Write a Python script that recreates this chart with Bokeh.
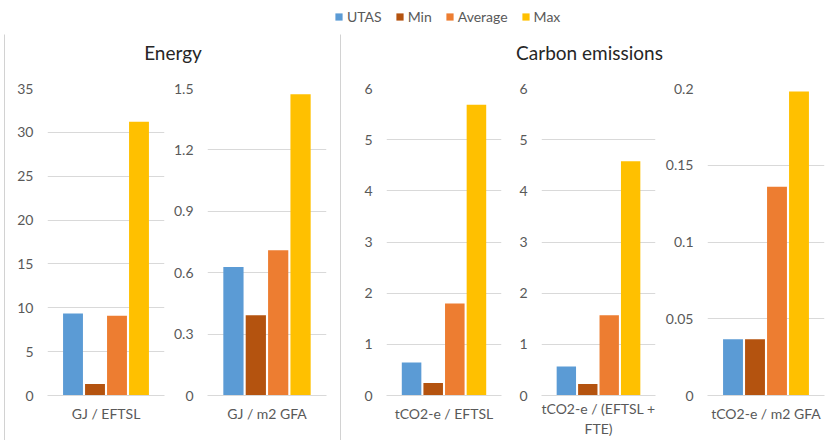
from bokeh.plotting import figure
from bokeh.layouts import row, column
from bokeh.models import (Range1d, FactorRange, FixedTicker, NumeralTickFormatter,
                          ColumnDataSource, Legend, LegendItem, CategoricalAxis)
from bokeh.transform import dodge
from bokeh.core.properties import value
from bokeh.embed import file_html
from bokeh.resources import INLINE

# ---------------- data ----------------
categories = ["GJ / EFTSL", "GJ / m2 GFA", "tCO2-e / EFTSL",
              "tCO2-e / (EFTSL + FTE)", "tCO2-e / m2 GFA"]
# category labels as drawn (wrapped where the chart wraps them)
label_lines = [["GJ / EFTSL"], ["GJ / m2 GFA"], ["tCO2-e / EFTSL"],
               ["tCO2-e / (EFTSL +", "FTE)"], ["tCO2-e / m2 GFA"]]
series = ["UTAS", "Min", "Average", "Max"]
utas = [9.35, 0.628, 0.645, 0.566, 0.0367]
minimum = [1.3, 0.392, 0.246, 0.227, 0.0367]
average = [9.09, 0.71, 1.80, 1.57, 0.136]
maximum = [31.2, 1.472, 5.68, 4.58, 0.198]
y_ticks = [
    [0, 5, 10, 15, 20, 25, 30, 35],
    [0, 0.3, 0.6, 0.9, 1.2, 1.5],
    [0, 1, 2, 3, 4, 5, 6],
    [0, 1, 2, 3, 4, 5, 6],
    [0, 0.05, 0.1, 0.15, 0.2],
]
panel_titles = ["Energy", "Carbon emissions"]

# ---------------- style ----------------
colors = ["#5B9BD5", "#B4530F", "#ED7D31", "#FFC000"]
FONT = "Lato"
TXT = "#595959"
GRID = "#d9d9d9"
BORDER = "#a6a6a6"
SLOT = 0.188
BAR_W = 0.17
# (canvas width, left border, right border) per subplot
sub_layout = [(165, 42, 6), (170, 37, 14), (169, 45, 9), (152, 31, 7), (175, 42, 13)]
LEG_H = 33
SUB_H = 370
TITLE_H = 36
PANEL_H = TITLE_H + SUB_H
TOTAL_W = 837
PANEL_W = [335, 496]


def base(w, h, **kw):
    return figure(width=w, height=h, toolbar_location=None, output_backend="svg", **kw)


def strip(w, h, color=BORDER):
    p = base(w, h, min_border=0, x_axis_location=None, y_axis_location=None,
             x_range=Range1d(0, 1), y_range=Range1d(0, 1))
    p.background_fill_color = color
    p.border_fill_color = color
    p.outline_line_color = None
    p.grid.visible = False
    return p


def title_fig(w, text):
    p = base(w, TITLE_H, min_border=0, x_axis_location=None, y_axis_location=None,
             x_range=Range1d(0, 1), y_range=Range1d(0, 1))
    p.outline_line_color = None
    p.grid.visible = False
    p.text(x=[0.5], y=[0.5], text=[text], text_align="center", text_baseline="middle",
           text_font=value(FONT), text_font_size="19px", text_color="#262626")
    return p


def style_axis(ax, size="14px"):
    ax.major_label_text_font = FONT
    ax.major_label_text_font_size = size
    ax.major_label_text_color = TXT


def sub(i):
    w, bl, br = sub_layout[i]
    cat = categories[i]
    p = base(w, SUB_H, x_range=FactorRange(factors=[cat]),
             y_range=Range1d(0, y_ticks[i][-1]),
             min_border_left=bl, min_border_right=br,
             min_border_top=18, min_border_bottom=45)
    p.outline_line_color = None
    src = ColumnDataSource(dict(cat=[cat], UTAS=[utas[i]], Min=[minimum[i]],
                                Average=[average[i]], Max=[maximum[i]]))
    for j, s in enumerate(series):
        p.vbar(x=dodge("cat", (j - 1.5) * SLOT, range=p.x_range), top=s, width=BAR_W,
               source=src, fill_color=colors[j], line_color=None)
    p.yaxis.ticker = FixedTicker(ticks=y_ticks[i])
    p.yaxis.formatter = NumeralTickFormatter(format="0.[00]")
    p.yaxis.axis_line_color = None
    p.yaxis.major_tick_line_color = None
    p.yaxis.minor_tick_line_color = None
    p.yaxis.major_tick_out = 0
    p.yaxis.major_label_standoff = 14
    style_axis(p.yaxis[0])

    lines = label_lines[i]
    if len(lines) == 1:
        p.xaxis.axis_line_color = GRID
        p.xaxis.major_tick_line_color = None
        p.xaxis.major_tick_out = 0
        p.xaxis.major_label_standoff = 9
        style_axis(p.xaxis[0])
    else:
        # category label wrapped over several lines: one axis per line
        p.xaxis.visible = False
        for k, line in enumerate(lines):
            name = f"line{k}"
            p.extra_x_ranges[name] = FactorRange(factors=[line])
            ax = CategoricalAxis(x_range_name=name,
                                 axis_line_color=GRID if k == 0 else None,
                                 major_tick_line_color=None, major_tick_out=0,
                                 major_tick_in=0,
                                 major_label_standoff=4 if k == 0 else 0)
            style_axis(ax)
            p.add_layout(ax, "below")
    p.xgrid.visible = False
    p.ygrid.grid_line_color = GRID
    return p


# legend figure
leg = base(TOTAL_W, LEG_H, min_border=0, x_axis_location=None, y_axis_location=None,
           x_range=Range1d(0, 1), y_range=Range1d(0, 1))
leg.outline_line_color = None
leg.grid.visible = False
items = []
hidden = ColumnDataSource(dict(x=[-5], top=[0]))
for j, s in enumerate(series):
    r = leg.vbar(x="x", top="top", width=0.1, source=hidden, fill_color=colors[j], line_color=None)
    items.append(LegendItem(label=s, renderers=[r]))
legend = Legend(items=items, orientation="horizontal", location=(334, 8),
                padding=0, margin=0, spacing=13, label_standoff=4,
                glyph_width=9, glyph_height=9, label_height=14,
                label_text_font=FONT, label_text_font_size="14px", label_text_color=TXT,
                border_line_color=None, background_fill_alpha=0)
leg.add_layout(legend, "center")

subs = [sub(i) for i in range(5)]
energy = column(title_fig(PANEL_W[0], panel_titles[0]), row(subs[0], subs[1]))
carbon = column(title_fig(PANEL_W[1], panel_titles[1]), row(subs[2], subs[3], subs[4]))

layout = column(
    leg,
    row(strip(4, 1, "white"), strip(TOTAL_W - 4, 1)),
    row(strip(4, PANEL_H, "white"), strip(1, PANEL_H), energy, strip(1, PANEL_H), carbon),
)

open("out.html", "w").write(file_html(layout, INLINE))
